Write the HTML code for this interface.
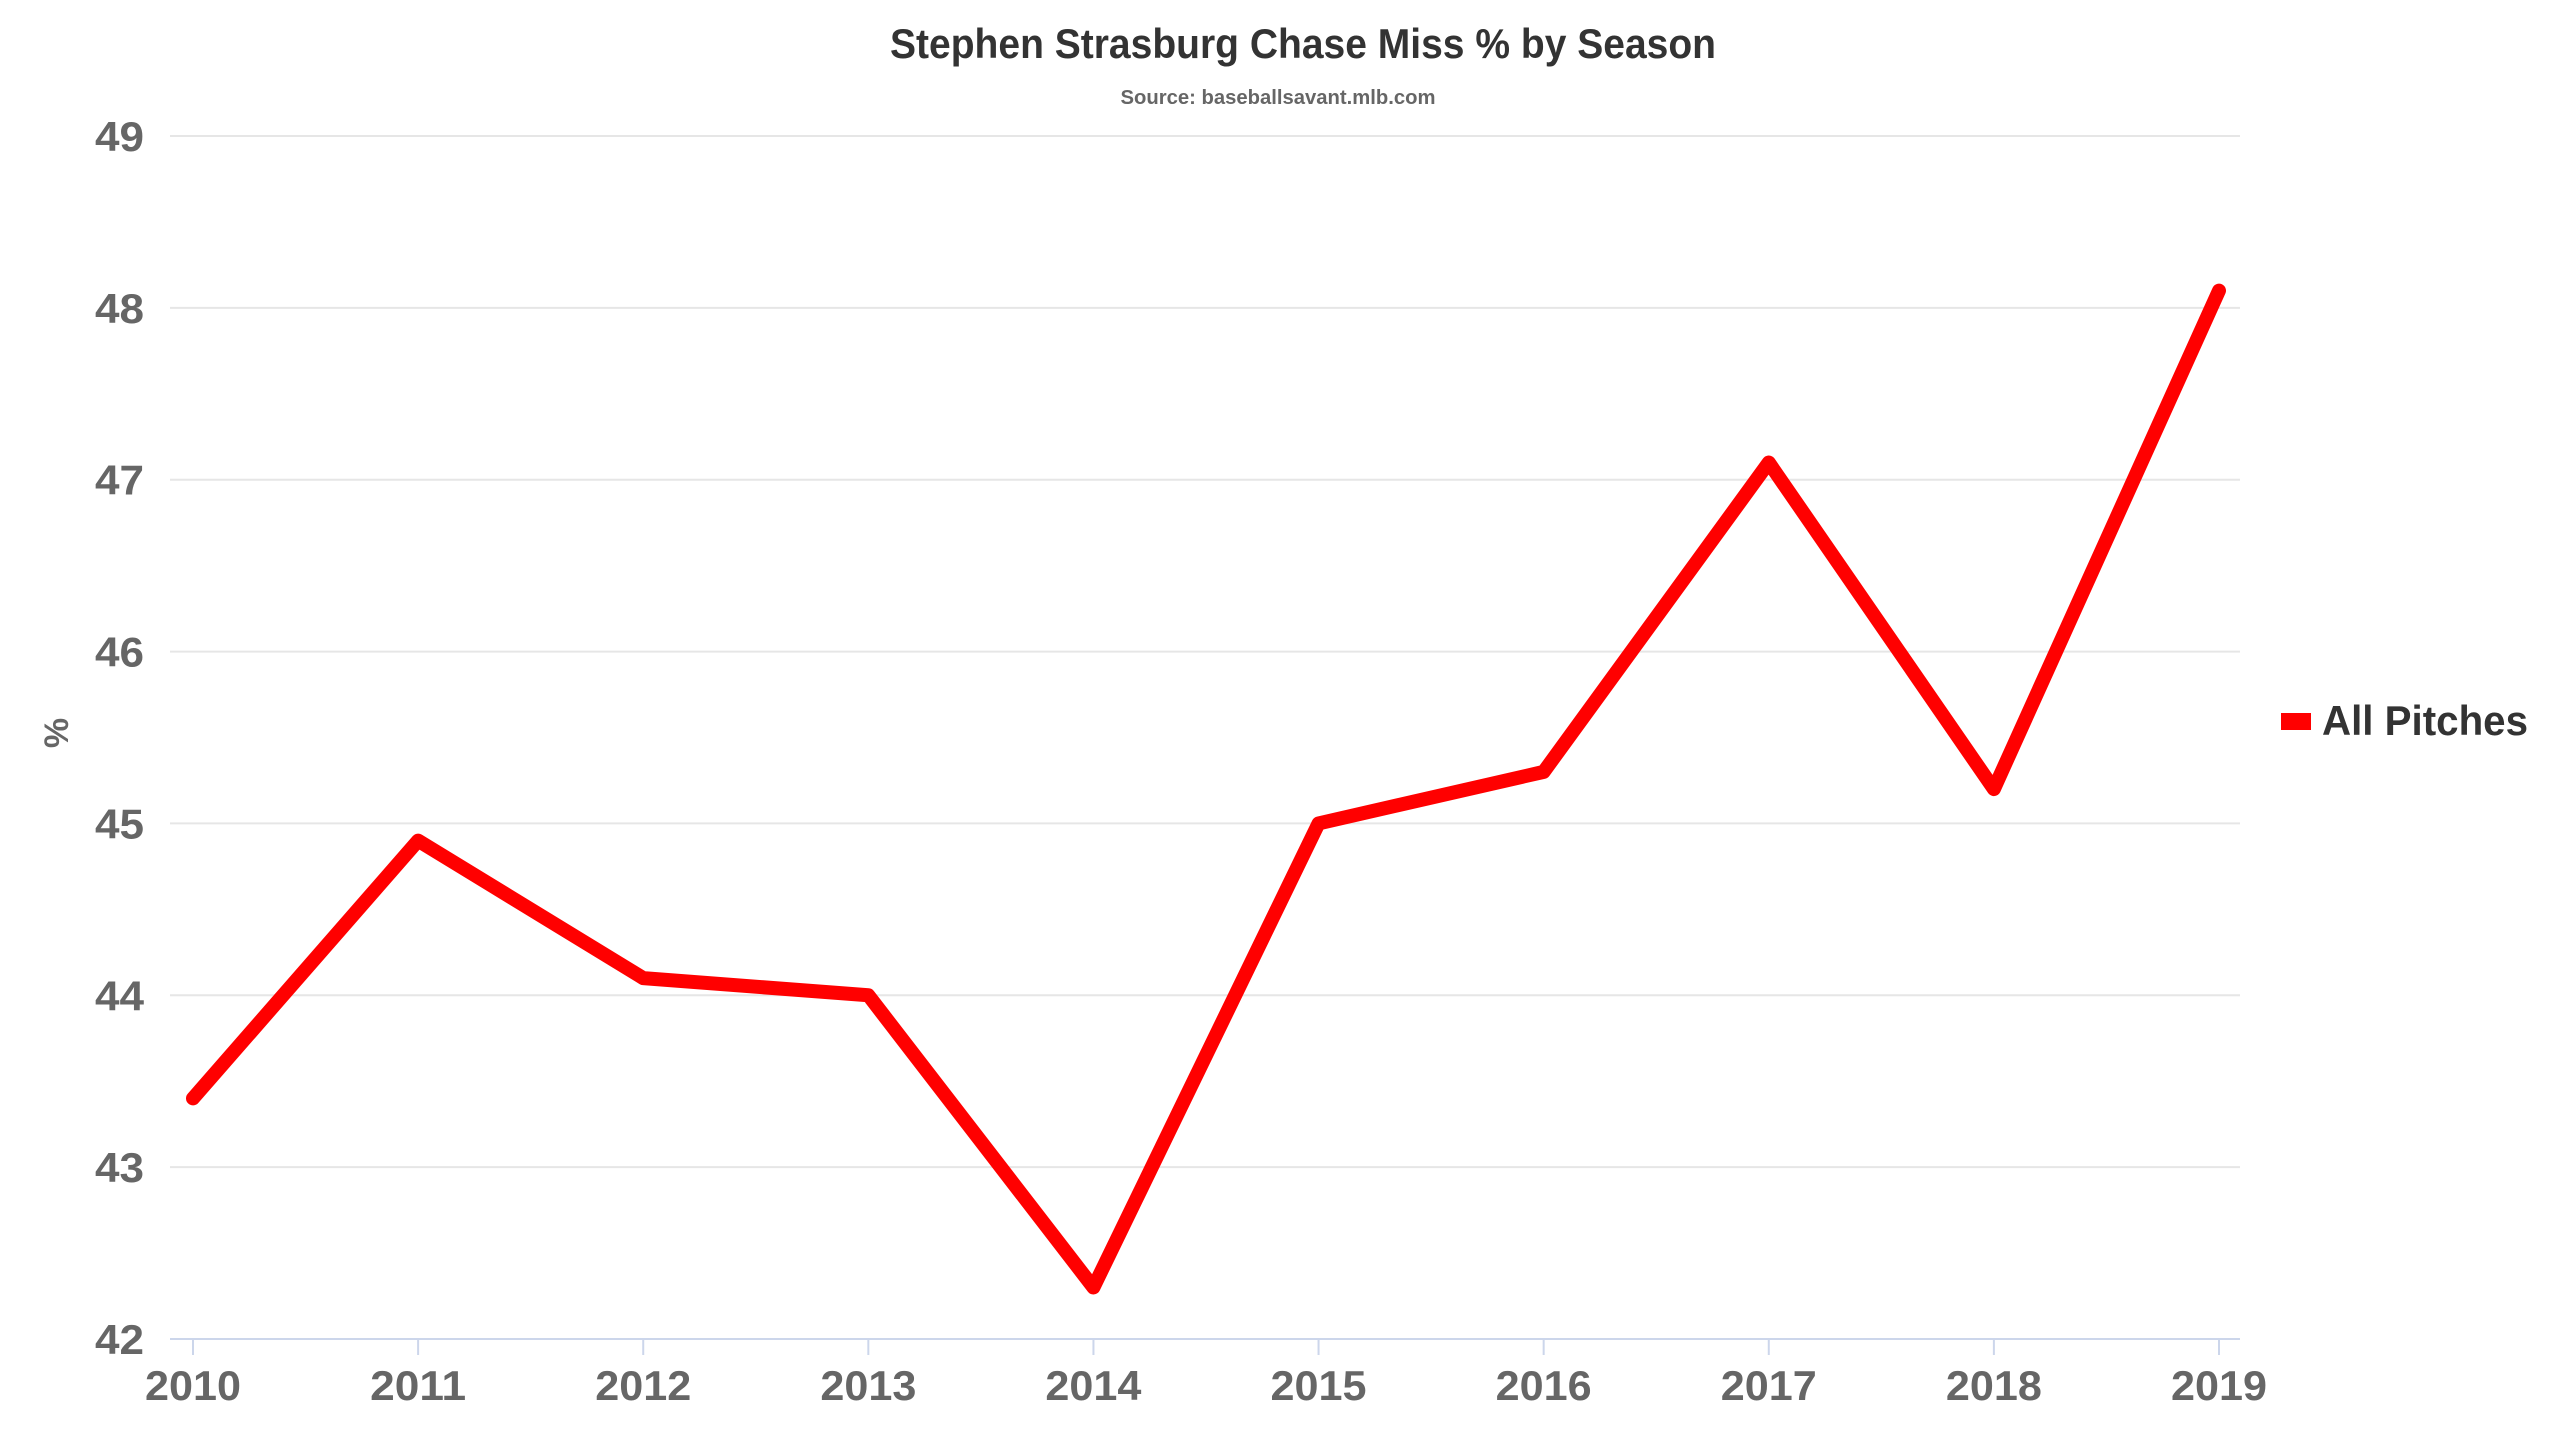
<!DOCTYPE html>
<html><head><meta charset="utf-8"><style>
html,body{margin:0;padding:0;background:#fff;}
svg{display:block;font-family:"Liberation Sans",sans-serif;font-weight:bold;}
</style></head><body>
<svg id="chart" width="2560" height="1440" viewBox="0 0 2560 1440" xmlns="http://www.w3.org/2000/svg">
<rect width="2560" height="1440" fill="#fff"/>
<text x="1303" y="58" text-anchor="middle" font-size="42" fill="#333" textLength="826" lengthAdjust="spacingAndGlyphs">Stephen Strasburg Chase Miss % by Season</text>
<text x="1278" y="104" text-anchor="middle" font-size="20" fill="#666" textLength="315" lengthAdjust="spacingAndGlyphs">Source: baseballsavant.mlb.com</text>
<text transform="translate(68,733) rotate(-90)" text-anchor="middle" font-size="34" fill="#666">%</text>
<g id="grid"></g><g id="yticks"></g><g id="xticks"></g>
<line x1="170" y1="1339" x2="2240" y2="1339" stroke="#ccd6eb" stroke-width="2"/>
<path id="series" fill="none" stroke="#ff0000" stroke-width="14" stroke-linejoin="round" stroke-linecap="round"/>
<g>
<rect x="2281" y="713" width="30" height="17" fill="#ff0000"/>
<text x="2322" y="735" font-size="42" fill="#333" textLength="206" lengthAdjust="spacingAndGlyphs">All Pitches</text>
</g>
</svg>
<script>
const categories = ["2010","2011","2012","2013","2014","2015","2016","2017","2018","2019"];
const values = [43.4, 44.9, 44.1, 44.0, 42.3, 45.0, 45.3, 47.1, 45.2, 48.1];
const yTicks = [42, 43, 44, 45, 46, 47, 48, 49];
const NS = "http://www.w3.org/2000/svg";
const X0 = 193, X1 = 2219, Y0 = 1339, Y1 = 136, YMIN = 42, YMAX = 49;
function xScale(i){ return X0 + (X1 - X0) * i / (categories.length - 1); }
function yScale(v){ return Y0 - (Y0 - Y1) * (v - YMIN) / (YMAX - YMIN); }
const grid = document.getElementById('grid'), yt = document.getElementById('yticks'), xt = document.getElementById('xticks');
yTicks.forEach(t => {
  const y = yScale(t);
  if (t !== YMIN) {
    const l = document.createElementNS(NS, 'line');
    
    
    l.setAttribute('x1', 170); l.setAttribute('x2', 2240);
    l.setAttribute('y1', y); l.setAttribute('y2', y);
    l.setAttribute('stroke', '#e6e6e6'); l.setAttribute('stroke-width', 2);
    grid.appendChild(l);
  }
  const tx = document.createElementNS(NS, 'text');
  
  
  tx.setAttribute('x', 144); tx.setAttribute('y', y + 15);
  tx.setAttribute('text-anchor', 'end'); tx.setAttribute('font-size', '42'); tx.setAttribute('fill', '#666');
  tx.setAttribute('textLength', '49'); tx.setAttribute('lengthAdjust', 'spacingAndGlyphs');
  tx.textContent = t;
  yt.appendChild(tx);
});
categories.forEach((c, i) => {
  const x = xScale(i);
  const tk = document.createElementNS(NS, 'line');
  
  
  tk.setAttribute('x1', x); tk.setAttribute('x2', x); tk.setAttribute('y1', Y0); tk.setAttribute('y2', Y0 + 16);
  tk.setAttribute('stroke', '#ccd6eb'); tk.setAttribute('stroke-width', 2);
  xt.appendChild(tk);
  const tx = document.createElementNS(NS, 'text');
  
  
  tx.setAttribute('x', x); tx.setAttribute('y', 1400);
  tx.setAttribute('text-anchor', 'middle'); tx.setAttribute('font-size', '42'); tx.setAttribute('fill', '#666');
  tx.setAttribute('textLength', '96'); tx.setAttribute('lengthAdjust', 'spacingAndGlyphs');
  tx.textContent = c;
  xt.appendChild(tx);
});
document.getElementById('series').setAttribute('d', values.map((v, i) => (i ? 'L' : 'M') + xScale(i) + ' ' + yScale(v)).join(' '));
</script>
</body></html>
